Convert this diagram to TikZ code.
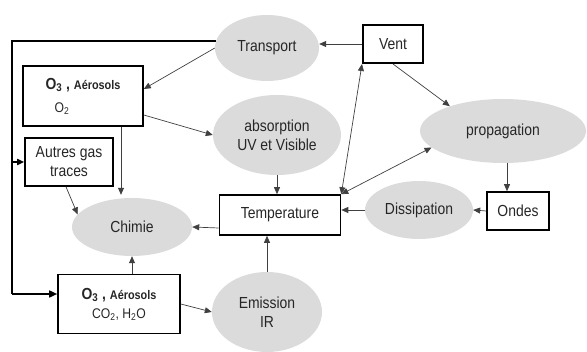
\documentclass[tikz,border=0pt]{standalone}
\usepackage{fontspec}
\setmainfont{Liberation Sans}[FakeStretch=0.87]
\usetikzlibrary{arrows.meta,shapes.geometric}

\begin{document}
\begin{tikzpicture}[x=1pt, y=-1pt,
      every node/.style={font=\fontsize{16}{19}\selectfont, text=black!85},
      box/.style={draw, line width=1.6pt, align=center, inner sep=2pt},
      bubble/.style={ellipse, fill=black!14, align=center, inner sep=0pt},
      arr/.style={-{Triangle[length=7pt,width=6pt]}, line width=0.7pt, draw=black!75},
      darr/.style={arr, {Triangle[length=7pt,width=6pt]}-{Triangle[length=7pt,width=6pt]}},
      loopline/.style={line width=1.6pt},
    ]
    \useasboundingbox (0,0) rectangle (587,352);

    % Upper row
    \node[bubble, minimum width=104, minimum height=66] (transport) at (267,48) {Transport};
    \node[box, line width=2pt, minimum width=60, minimum height=38] (vent) at (393,44) {Vent};
    \node[box, minimum width=120, minimum height=60, align=left] (ozone) at (83,96)
      {\textbf{\fontsize{16}{18}\selectfont O\textsubscript{3} ,\ \fontsize{12.5}{14}\selectfont A\'erosols}\\[4pt]
       \hspace{9pt}\fontsize{14}{16}\selectfont O\textsubscript{2}};
    \node[bubble, minimum width=128, minimum height=80] (absorp) at (277,135) {absorption\\UV et Visible};
    \node[bubble, minimum width=166, minimum height=64] (propag) at (503,131) {propagation};

    % Middle row
    \node[box, minimum width=88, minimum height=48] (autres) at (69,162) {Autres gas\\traces};
    \node[bubble, minimum width=120, minimum height=58] (chimie) at (132,227) {Chimie};
    \node[box, minimum width=121, minimum height=40] (temp) at (280,215) {Temperature};
    \node[bubble, minimum width=108, minimum height=58] (dissip) at (419,210) {Dissipation};
    \node[box, minimum width=62, minimum height=38] (ondes) at (518,211) {Ondes};

    % Lower row
    \node[box, minimum width=122, minimum height=59] (ozonebas) at (119,304)
      {\textbf{\fontsize{16}{18}\selectfont O\textsubscript{3} ,\ \fontsize{12.5}{14}\selectfont A\'erosols}\\
       \fontsize{14}{18}\selectfont CO\textsubscript{2}, H\textsubscript{2}O};
    \node[bubble, minimum width=110, minimum height=80] (emis) at (267,312) {Emission\\IR};

    % Transport loop
    \coordinate (cBL) at (12,294);
    \draw[loopline] (transport.172) -- (transport.172 -| cBL) -- (cBL);
    \draw[loopline, -{Triangle[length=8pt,width=7pt]}] (cBL) -- (cBL -| ozonebas.west);
    \draw[arr, line width=1.6pt, draw=black] (cBL |- autres.west) -- (autres.west);

    % Arrows
    \draw[arr] (transport.west) -- ([yshift=7pt]ozone.east);
    \draw[arr] (vent.west) -- (vent.west -| transport.east);
    \draw[arr] (vent.south) -- (propag.155);
    \draw[darr] (temp.north east) -- (vent.south west);
    \draw[darr] (temp.north east) -- (propag.193);
    \draw[arr] ([yshift=-19pt]ozone.east) -- (absorp.west);
    \draw[arr] ([xshift=38pt]ozone.south) -- ([xshift=38pt,yshift=3pt]ozone.south |- chimie.north);
    \draw[arr] ([xshift=-3pt]autres.south) -- (chimie.167);
    \draw[arr] (absorp.south) -- (absorp.south |- temp.north);
    \draw[arr] ([yshift=-13pt]temp.west) -- (chimie.east);
    \draw[arr] (ozonebas.north -| chimie.south) -- (chimie.south);
    \draw[arr] (ozonebas.east) -- (emis.west);
    \draw[arr] (emis.north) -- (emis.north |- temp.south);
    \draw[arr] (dissip.west) -- (dissip.west -| temp.east);
    \draw[arr] (ondes.west) -- (dissip.east);
    \draw[arr] ([xshift=4pt]propag.south) -- ([xshift=4pt]propag.south |- ondes.north);
  \end{tikzpicture}
\end{document}
